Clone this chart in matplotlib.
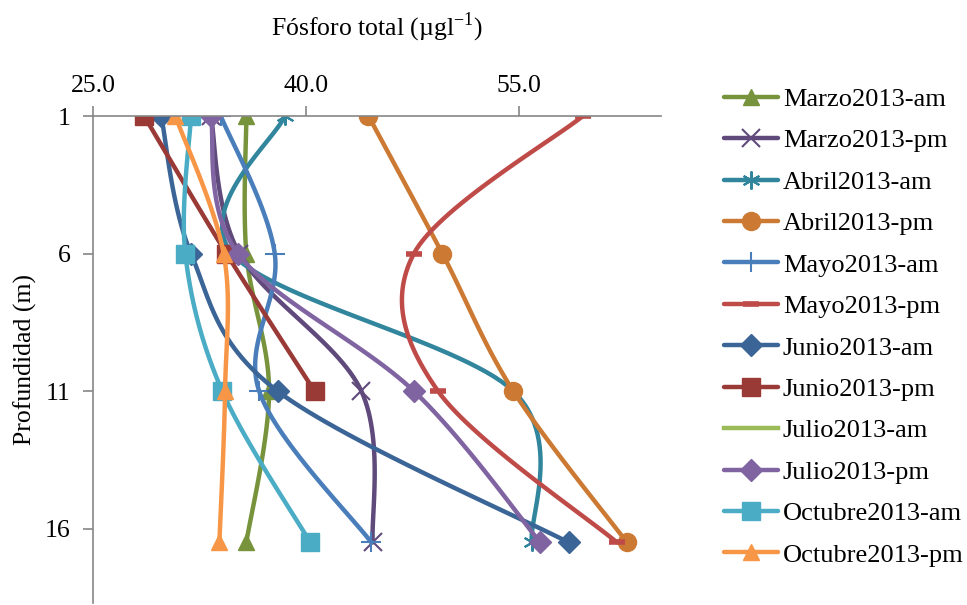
import numpy as np
import matplotlib
matplotlib.use('Agg')
import matplotlib.pyplot as plt

plt.rcParams['font.family'] = ['Liberation Serif', 'DejaVu Serif']
plt.rcParams['mathtext.fontset'] = 'custom'
plt.rcParams['mathtext.rm'] = 'Liberation Serif'

# depths (m); the last sampling was plotted a bit below 16
depth = [1, 6, 11, 16.5]
depth_ticks = [1, 6, 11, 16]
p_ticks = [25.0, 40.0, 55.0]

labels = ['Marzo2013-am', 'Marzo2013-pm', 'Abril2013-am', 'Abril2013-pm',
          'Mayo2013-am', 'Mayo2013-pm', 'Junio2013-am', 'Junio2013-pm',
          'Julio2013-am', 'Julio2013-pm', 'Octubre2013-am', 'Octubre2013-pm']

marzo_am = [35.8, 35.8, 37.4, 35.8]
marzo_pm = [33.3, 35.3, 43.9, 44.7]
abril_am = [38.5, 34.8, 54.6, 55.9]
abril_pm = [44.4, 49.6, 54.6, 62.6]
mayo_am = [34.0, 37.8, 36.7, 44.6]
mayo_pm = [59.5, 47.6, 49.3, 61.9]
junio_am = [29.8, 31.9, 38.0, 58.5]
junio_pm = [28.6, 34.4, 40.6, np.nan]
julio_am = [np.nan, np.nan, np.nan, np.nan]
julio_pm = [33.3, 35.2, 47.6, 56.5]
octubre_am = [31.9, 31.5, 34.1, 40.3]
octubre_pm = [30.8, 34.2, 34.3, 33.9]

series = [marzo_am, marzo_pm, abril_am, abril_pm, mayo_am, mayo_pm,
          junio_am, junio_pm, julio_am, julio_pm, octubre_am, octubre_pm]

colors = ['#77933c', '#604a7b', '#31859c', '#cc7a33', '#4a7ebb', '#be4b48',
          '#3b6596', '#9a3a37', '#9bbb59', '#8064a2', '#4bacc6', '#f79646']
markers = ['^', 'x', (6, 2, 0), 'o', '+', '_', 'D', 's', 'None', 'D', 's', '^']
msizes = [12, 13, 13, 13, 14, 11, 11, 13, 0, 11, 13, 12]

FS = 18.5

# pixel-ish scaling so the smoothing looks like the spreadsheet one
SX, SY = 14.17, 27.5


def smooth(xs, ys, n=30):
    # catmull-rom through the points, done as cubic beziers
    pts = np.column_stack([np.asarray(xs) * SX, np.asarray(ys) * SY])
    if len(pts) < 3:
        return pts[:, 0] / SX, pts[:, 1] / SY, list(range(len(pts)))
    out = [pts[0]]
    idx = [0]
    t = np.linspace(0, 1, n + 1)[1:]
    for i in range(len(pts) - 1):
        p0 = pts[max(i - 1, 0)]
        p1 = pts[i]
        p2 = pts[i + 1]
        p3 = pts[min(i + 2, len(pts) - 1)]
        c1 = p1 + (p2 - p0) / 6.0
        c2 = p2 - (p3 - p1) / 6.0
        seg = ((1 - t)[:, None] ** 3 * p1 + 3 * ((1 - t) ** 2 * t)[:, None] * c1
               + 3 * ((1 - t) * t ** 2)[:, None] * c2 + (t ** 3)[:, None] * p2)
        out.extend(seg)
        idx.append(len(out) - 1)
    out = np.array(out)
    return out[:, 0] / SX, out[:, 1] / SY, idx


fig = plt.figure(figsize=(9.67, 6.05), dpi=100)
ax = fig.add_axes([93 / 967, 2 / 605, 568 / 967, 487 / 605])

for vals, lab, c, m, ms in zip(series, labels, colors, markers, msizes):
    xs = [v for v in vals if not np.isnan(v)]
    ys = [d for v, d in zip(vals, depth) if not np.isnan(v)]
    if len(xs) == 0:
        ax.plot([], [], color=c, lw=3.2, label=lab)
        continue
    sx, sy, idx = smooth(xs, ys)
    mew = 1.5 if m in ('x', '+', (6, 2, 0)) else 1.0
    if m == '_':
        mew = 4
    ax.plot(sx, sy, color=c, lw=3.2, marker=m, markevery=idx, markersize=ms,
            markerfacecolor=c, markeredgecolor=c, markeredgewidth=mew,
            solid_capstyle='round', label=lab)

ax.set_xlim(25, 65)
ax.set_ylim(18.7, 1)
ax.set_xticks(p_ticks)
ax.set_xticklabels(['%.1f' % v for v in p_ticks])
ax.set_yticks(depth_ticks)
ax.xaxis.tick_top()
ax.xaxis.set_label_position('top')
ax.tick_params(axis='both', colors='#868686', length=7, width=1.2,
               labelsize=FS, labelcolor='black')
ax.tick_params(axis='x', pad=7)
ax.tick_params(axis='y', pad=9)
for s in ['bottom', 'right']:
    ax.spines[s].set_visible(False)
for s in ['top', 'left']:
    ax.spines[s].set_color('#868686')
    ax.spines[s].set_linewidth(1.2)

ax.set_xlabel(r'Fósforo total (µgl$^{\mathregular{-1}}$)', fontsize=FS, labelpad=28)
ax.set_ylabel('Profundidad (m)', fontsize=FS, labelpad=6)

fig.legend(loc='upper left', bbox_to_anchor=(713 / 967, 1 - 77 / 605),
           frameon=False, fontsize=19, handlelength=2.05, handletextpad=0.2,
           labelspacing=0.68, borderaxespad=0)

fig.savefig('out.png', dpi=100)
